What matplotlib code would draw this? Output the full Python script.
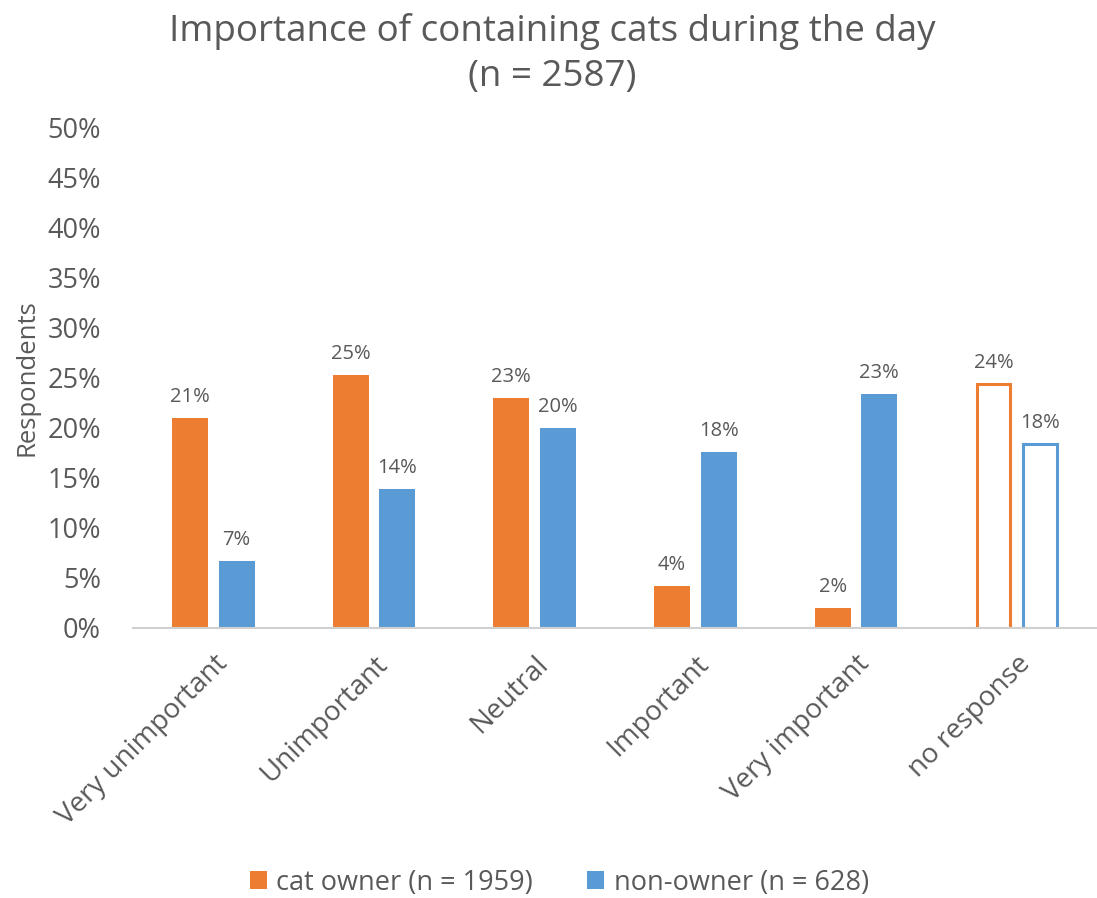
import numpy as np
import matplotlib.pyplot as plt

categories = ["Very unimportant", "Unimportant", "Neutral", "Important",
              "Very important", "no response"]
cat_owner = [21.0, 25.3, 23.0, 4.2, 2.0, 24.4]
non_owner = [6.7, 13.9, 20.0, 17.6, 23.4, 18.4]
series_names = ["cat owner (n = 1959)", "non-owner (n = 628)"]

orange = "#ED7D31"
blue = "#5B9BD5"
grey = "#595959"

plt.rcParams['font.family'] = ['Open Sans', 'DejaVu Sans']

fig = plt.figure(figsize=(10.97, 8.98), dpi=100)
ax = fig.add_axes([0.1212, 0.3007, 0.8788, 0.5568])

x = np.arange(len(categories))
w = 0.224
off = 0.145

# last category drawn hollow
solid = len(categories) - 1
b1 = ax.bar(x[:solid] - off, cat_owner[:solid], w, color=orange, label=series_names[0])
b2 = ax.bar(x[:solid] + off, non_owner[:solid], w, color=blue, label=series_names[1])
ax.bar(x[solid] - off, cat_owner[solid], w * 0.93, facecolor="white", edgecolor=orange, linewidth=2.2)
ax.bar(x[solid] + off, non_owner[solid], w * 0.93, facecolor="white", edgecolor=blue, linewidth=2.2)

for i in range(len(categories)):
    ax.text(x[i] - off, cat_owner[i] + 1.1, "%d%%" % round(cat_owner[i]),
            ha="center", va="bottom", fontsize=14.5, color=grey)
    ax.text(x[i] + off, non_owner[i] + 1.1, "%d%%" % round(non_owner[i]),
            ha="center", va="bottom", fontsize=14.5, color=grey)

ax.set_xlim(-0.5, len(categories) - 0.5)
ax.set_ylim(0, 50)
ax.set_yticks(np.arange(0, 51, 5))
ax.set_yticklabels(["%d%%" % v for v in range(0, 51, 5)], fontsize=19.5, color=grey)
ax.set_xticks(x)
ax.set_xticklabels(categories, rotation=45, ha="right", rotation_mode="anchor",
                   fontsize=20, color=grey)
ax.tick_params(axis="both", length=0)
ax.tick_params(axis="y", pad=23)
ax.tick_params(axis="x", pad=16)

for s in ["top", "right", "left"]:
    ax.spines[s].set_visible(False)
ax.spines["bottom"].set_color("#d0d0d0")
ax.spines["bottom"].set_linewidth(1.5)

ax.set_ylabel("Respondents", fontsize=18.5, color=grey, labelpad=6)
fig.text(0.503, 0.985, "Importance of containing cats during the day\n(n = 2587)",
         ha="center", va="top", fontsize=26.5, color=grey, linespacing=1.3)

fig.legend(handles=[b1, b2], labels=series_names, loc="center",
           bbox_to_anchor=(0.51, 0.017), ncol=2, frameon=False, fontsize=19.5,
           handlelength=0.62, handleheight=0.62, columnspacing=2.0, handletextpad=0.35,
           labelcolor=grey)

fig.savefig("out.png", dpi=100)
